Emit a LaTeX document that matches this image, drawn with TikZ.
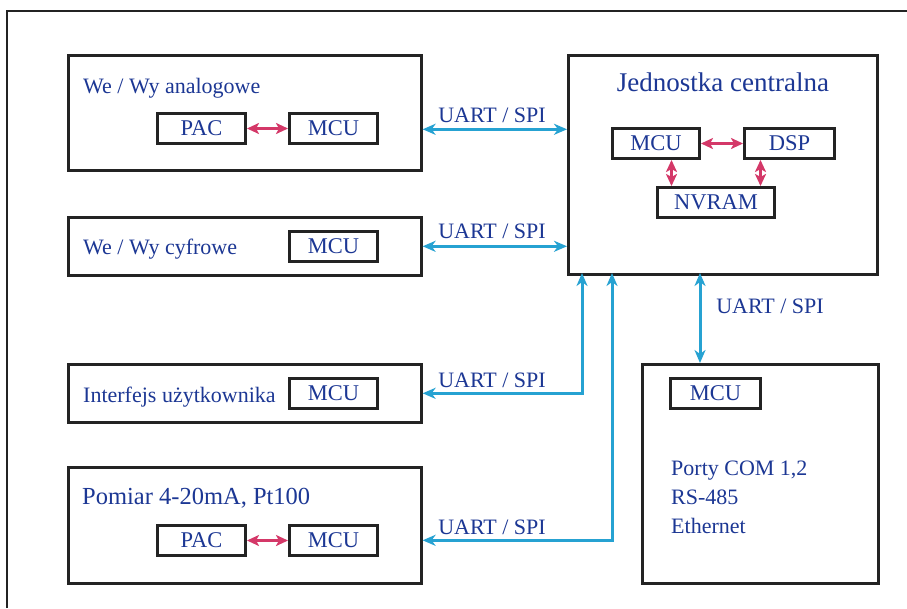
\documentclass[tikz,border=0pt]{standalone}
\usepackage{fontspec}
\setmainfont{Liberation Serif}
\usetikzlibrary{arrows.meta,calc}
\definecolor{txtblue}{RGB}{28,55,148}
\definecolor{linkblue}{RGB}{38,162,210}
\definecolor{linkred}{RGB}{212,56,104}
\definecolor{frame}{RGB}{35,35,35}
\tikzset{
  x=1pt, y=-1pt,
  bigbox/.style={draw=frame, line width=2.6pt, anchor=north west, inner sep=0pt},
  chip/.style={draw=frame, line width=3pt, anchor=north west, inner sep=0pt,
    font=\fontsize{22.5}{24}\selectfont, text=txtblue},
  title/.style={font=\fontsize{22}{24}\selectfont, text=txtblue, inner sep=0pt},
  bigtitle/.style={font=\fontsize{24.5}{28}\selectfont, text=txtblue, inner sep=0pt},
  lbl/.style={font=\fontsize{22}{24}\selectfont, text=txtblue, inner sep=0pt, anchor=base},
  barr/.style={draw=linkblue, line width=3pt,
    {Stealth[length=13pt,width=11pt,inset=4pt]}-{Stealth[length=13pt,width=11pt,inset=4pt]}},
  rarr/.style={draw=linkred, line width=3.6pt,
    {Stealth[length=12pt,width=11pt,inset=3pt]}-{Stealth[length=12pt,width=11pt,inset=3pt]}},
}
\begin{document}
\begin{tikzpicture}
\useasboundingbox (0,0) rectangle (907,608);
\fill[white] (0,0) rectangle (907,608);
% outer frame
\draw[frame, line width=2.4pt] (7,608) -- (7,11) -- (907,11);

% Box 1
\node[bigbox, minimum width=353pt, minimum height=115pt] (b1) at (67,54) {};
\node[title, anchor=base west] (t1) at (83,93) {We / Wy analogowe};
\node[chip, minimum width=88pt, minimum height=30pt] (b1pac) at (156,112) {PAC};
\node[chip, minimum width=88pt, minimum height=30pt] (b1mcu) at (288,112) {MCU};
\draw[rarr] (b1pac.east) -- (b1mcu.west);

% Box 2
\node[bigbox, minimum width=353pt, minimum height=58pt] (b2) at (67,216) {};
\node[title, anchor=base west] (t2) at (83,254) {We / Wy cyfrowe};
\node[chip, minimum width=88pt, minimum height=30pt] (b2mcu) at (288,230) {MCU};

% Box 3
\node[bigbox, minimum width=353pt, minimum height=58pt] (b3) at (67,363) {};
\node[title, anchor=base west] (t3) at (83,402) {Interfejs użytkownika};
\node[chip, minimum width=88pt, minimum height=30pt] (b3mcu) at (288,377) {MCU};

% Box 4
\node[bigbox, minimum width=353pt, minimum height=116pt] (b4) at (67,466) {};
\node[bigtitle, anchor=base west] (t4) at (82,504) {Pomiar 4-20mA, Pt100};
\node[chip, minimum width=88pt, minimum height=30pt] (b4pac) at (156,524) {PAC};
\node[chip, minimum width=88pt, minimum height=30pt] (b4mcu) at (288,524) {MCU};
\draw[rarr] (b4pac.east) -- (b4mcu.west);

% Central unit
\node[bigbox, minimum width=309pt, minimum height=219pt] (cen) at (567,54) {};
\node[font=\fontsize{27}{30}\selectfont, text=txtblue, inner sep=0pt, anchor=base] (tc) at (723,91) {Jednostka centralna};
\node[chip, minimum width=87pt, minimum height=30pt] (cmcu) at (611,127) {MCU};
\node[chip, minimum width=90pt, minimum height=30pt] (cdsp) at (743,127) {DSP};
\node[chip, minimum width=117pt, minimum height=30pt] (nvram) at (656,186) {NVRAM};
\draw[rarr] (cmcu.east) -- (cdsp.west);
\coordinate (m1) at ([xshift=15.5pt]cmcu.south);
\coordinate (m2) at ([xshift=-29pt]cdsp.south);
\draw[rarr] (m1) -- (m1 |- nvram.north);
\draw[rarr] (m2) -- (m2 |- nvram.north);

% Communication box
\node[bigbox, minimum width=236pt, minimum height=219pt] (b6) at (641,363) {};
\node[chip, minimum width=90pt, minimum height=30pt] (b6mcu) at (669,377) {MCU};
\node[title, anchor=base west] (p1) at (671,475) {Porty COM 1,2};
\node[title, anchor=base west] (p2) at (671,504) {RS-485};
\node[title, anchor=base west] (p3) at (671,533) {Ethernet};

% Blue links
\coordinate (u1) at ([yshift=-16.5pt]b1.east);
\draw[barr] (u1) -- (u1 -| cen.west);
\node[lbl] (l1) at (492,122) {UART / SPI};

\draw[barr] (b2.east) -- (b2.east -| cen.west);
\node[lbl] (l2) at (492,238) {UART / SPI};

\coordinate (v1) at (582,273);
\draw[barr] (v1) |- (b3.east);
\node[lbl] (l3) at (492,387) {UART / SPI};

\coordinate (v2) at (612,273);
\coordinate (w4) at ([yshift=-15pt]b4.east);
\draw[barr] (v2) |- (w4);
\node[lbl] (l4) at (492,534) {UART / SPI};

\coordinate (v3) at (700,273);
\draw[barr] (v3) -- (v3 |- b6.north);
\node[lbl] (l5) at (770,313) {UART / SPI};
\end{tikzpicture}
\end{document}
